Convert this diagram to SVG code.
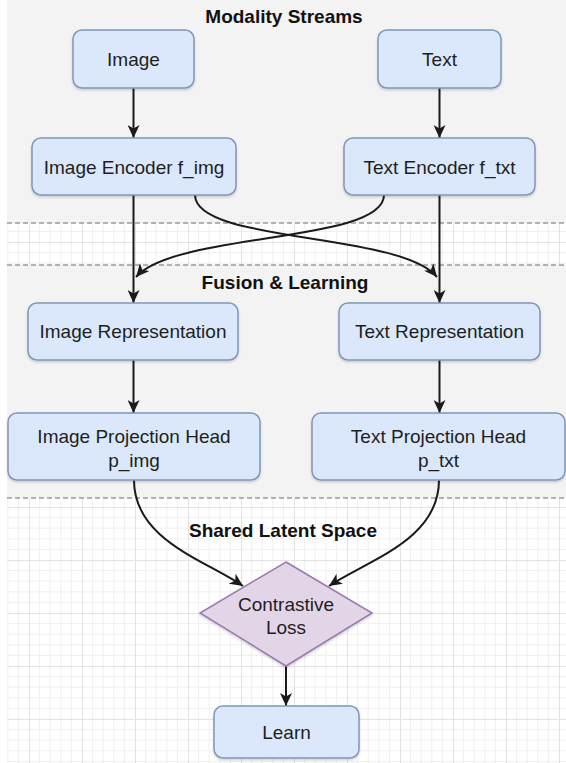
<svg xmlns="http://www.w3.org/2000/svg" width="566" height="763" viewBox="0 0 566 763">
  <defs>
    <style>
      .lane { fill: #f3f3f3; }
      .divider { stroke: #9a9a9a; stroke-width: 1.5; stroke-dasharray: 5 3; fill: none; }
      .box { fill: #dbe8fb; stroke: #7f97b8; stroke-width: 1.5; filter: url(#shadow); }
      .diamond { fill: #e2d5e8; stroke: #9a7aac; stroke-width: 1.5; filter: url(#shadow); }
      .label { font-family: "Liberation Sans", Arial, sans-serif; font-size: 19px; fill: #1e1e1e; text-anchor: middle; }
      .title { font-family: "Liberation Sans", Arial, sans-serif; font-size: 19px; font-weight: bold; fill: #111111; text-anchor: middle; }
      .edge { stroke: #1a1a1a; stroke-width: 2; fill: none; marker-end: url(#arrow); }
    </style>
    <pattern id="grid" x="29" y="30" width="53" height="53" patternUnits="userSpaceOnUse">
      <rect width="53" height="53" fill="#ffffff"/>
      <path d="M10.6,0V53M21.2,0V53M31.8,0V53M42.4,0V53M0,10.6H53M0,21.2H53M0,31.8H53M0,42.4H53" stroke="#f0f0f0" stroke-width="1"/>
      <path d="M0.5,0V53M0,0.5H53" stroke="#e3e3e3" stroke-width="1"/>
    </pattern>
    <marker id="arrow" markerWidth="14" markerHeight="12" refX="13" refY="6" orient="auto" markerUnits="userSpaceOnUse">
      <path d="M0,0 L13,6 L0,12 L3.5,6 Z" fill="#1a1a1a"/>
    </marker>
    <filter id="shadow" x="-10%" y="-10%" width="120%" height="130%">
      <feDropShadow dx="0" dy="1.5" stdDeviation="1" flood-color="#000000" flood-opacity="0.18"/>
    </filter>
  </defs>

  <g id="background">
    <rect x="0" y="0" width="566" height="763" fill="#ffffff"/>
    <rect class="lane" x="7" y="0" width="559" height="223"/>
    <rect x="7" y="223" width="559" height="42" fill="url(#grid)"/>
    <rect class="lane" x="7" y="265" width="559" height="233"/>
    <rect x="7" y="498" width="559" height="265" fill="url(#grid)"/>
    <line class="divider" x1="7" y1="223" x2="566" y2="223"/>
    <line class="divider" x1="7" y1="265" x2="566" y2="265"/>
    <line class="divider" x1="7" y1="498" x2="566" y2="498"/>
    <text class="title" x="284" y="23">Modality Streams</text>
    <text class="title" x="285" y="289">Fusion &amp; Learning</text>
    <text class="title" x="283" y="537">Shared Latent Space</text>
  </g>

  <g id="connectors">
    <line class="edge" x1="133.5" y1="88" x2="133.5" y2="138"/>
    <line class="edge" x1="439.5" y1="88" x2="439.5" y2="138"/>
    <line class="edge" x1="133.5" y1="195" x2="133.5" y2="303"/>
    <line class="edge" x1="439.5" y1="195" x2="439.5" y2="303"/>
    <path class="edge" d="M195,195 C195,243 400,232 437,277"/>
    <path class="edge" d="M384,195 C384,243 175,232 136,277"/>
    <line class="edge" x1="133.5" y1="360" x2="133.5" y2="413"/>
    <line class="edge" x1="439.5" y1="360" x2="439.5" y2="413"/>
    <path class="edge" d="M134,480 C134,540 205,560 243,586"/>
    <path class="edge" d="M439,480 C439,540 368,560 329,586"/>
    <line class="edge" x1="286" y1="666" x2="286" y2="706"/>
  </g>

  <g id="image">
    <rect class="box" x="73" y="30" width="121" height="58" rx="9"/>
    <text class="label" x="133.5" y="66">Image</text>
  </g>
  <g id="text">
    <rect class="box" x="378" y="30" width="123" height="58" rx="9"/>
    <text class="label" x="439.5" y="66">Text</text>
  </g>
  <g id="image-encoder">
    <rect class="box" x="32" y="138" width="204" height="57" rx="9"/>
    <text class="label" x="134" y="174">Image Encoder f_img</text>
  </g>
  <g id="text-encoder">
    <rect class="box" x="344" y="138" width="191" height="57" rx="9"/>
    <text class="label" x="439.5" y="174">Text Encoder f_txt</text>
  </g>
  <g id="image-representation">
    <rect class="box" x="28" y="303" width="210" height="57" rx="9"/>
    <text class="label" x="133" y="338">Image Representation</text>
  </g>
  <g id="text-representation">
    <rect class="box" x="339" y="303" width="201" height="57" rx="9"/>
    <text class="label" x="439.5" y="338">Text Representation</text>
  </g>
  <g id="image-projection-head">
    <rect class="box" x="8" y="413" width="252" height="67" rx="9"/>
    <text class="label" x="134" y="443">Image Projection Head</text>
    <text class="label" x="134" y="467">p_img</text>
  </g>
  <g id="text-projection-head">
    <rect class="box" x="312" y="413" width="253" height="67" rx="9"/>
    <text class="label" x="438.5" y="443">Text Projection Head</text>
    <text class="label" x="438.5" y="467">p_txt</text>
  </g>
  <g id="contrastive-loss">
    <polygon class="diamond" points="286,562 372,613 286,666 200,613"/>
    <text class="label" x="286" y="611">Contrastive</text>
    <text class="label" x="286" y="634">Loss</text>
  </g>
  <g id="learn">
    <rect class="box" x="214" y="706" width="145" height="52" rx="9"/>
    <text class="label" x="286.5" y="739">Learn</text>
  </g>
</svg>
